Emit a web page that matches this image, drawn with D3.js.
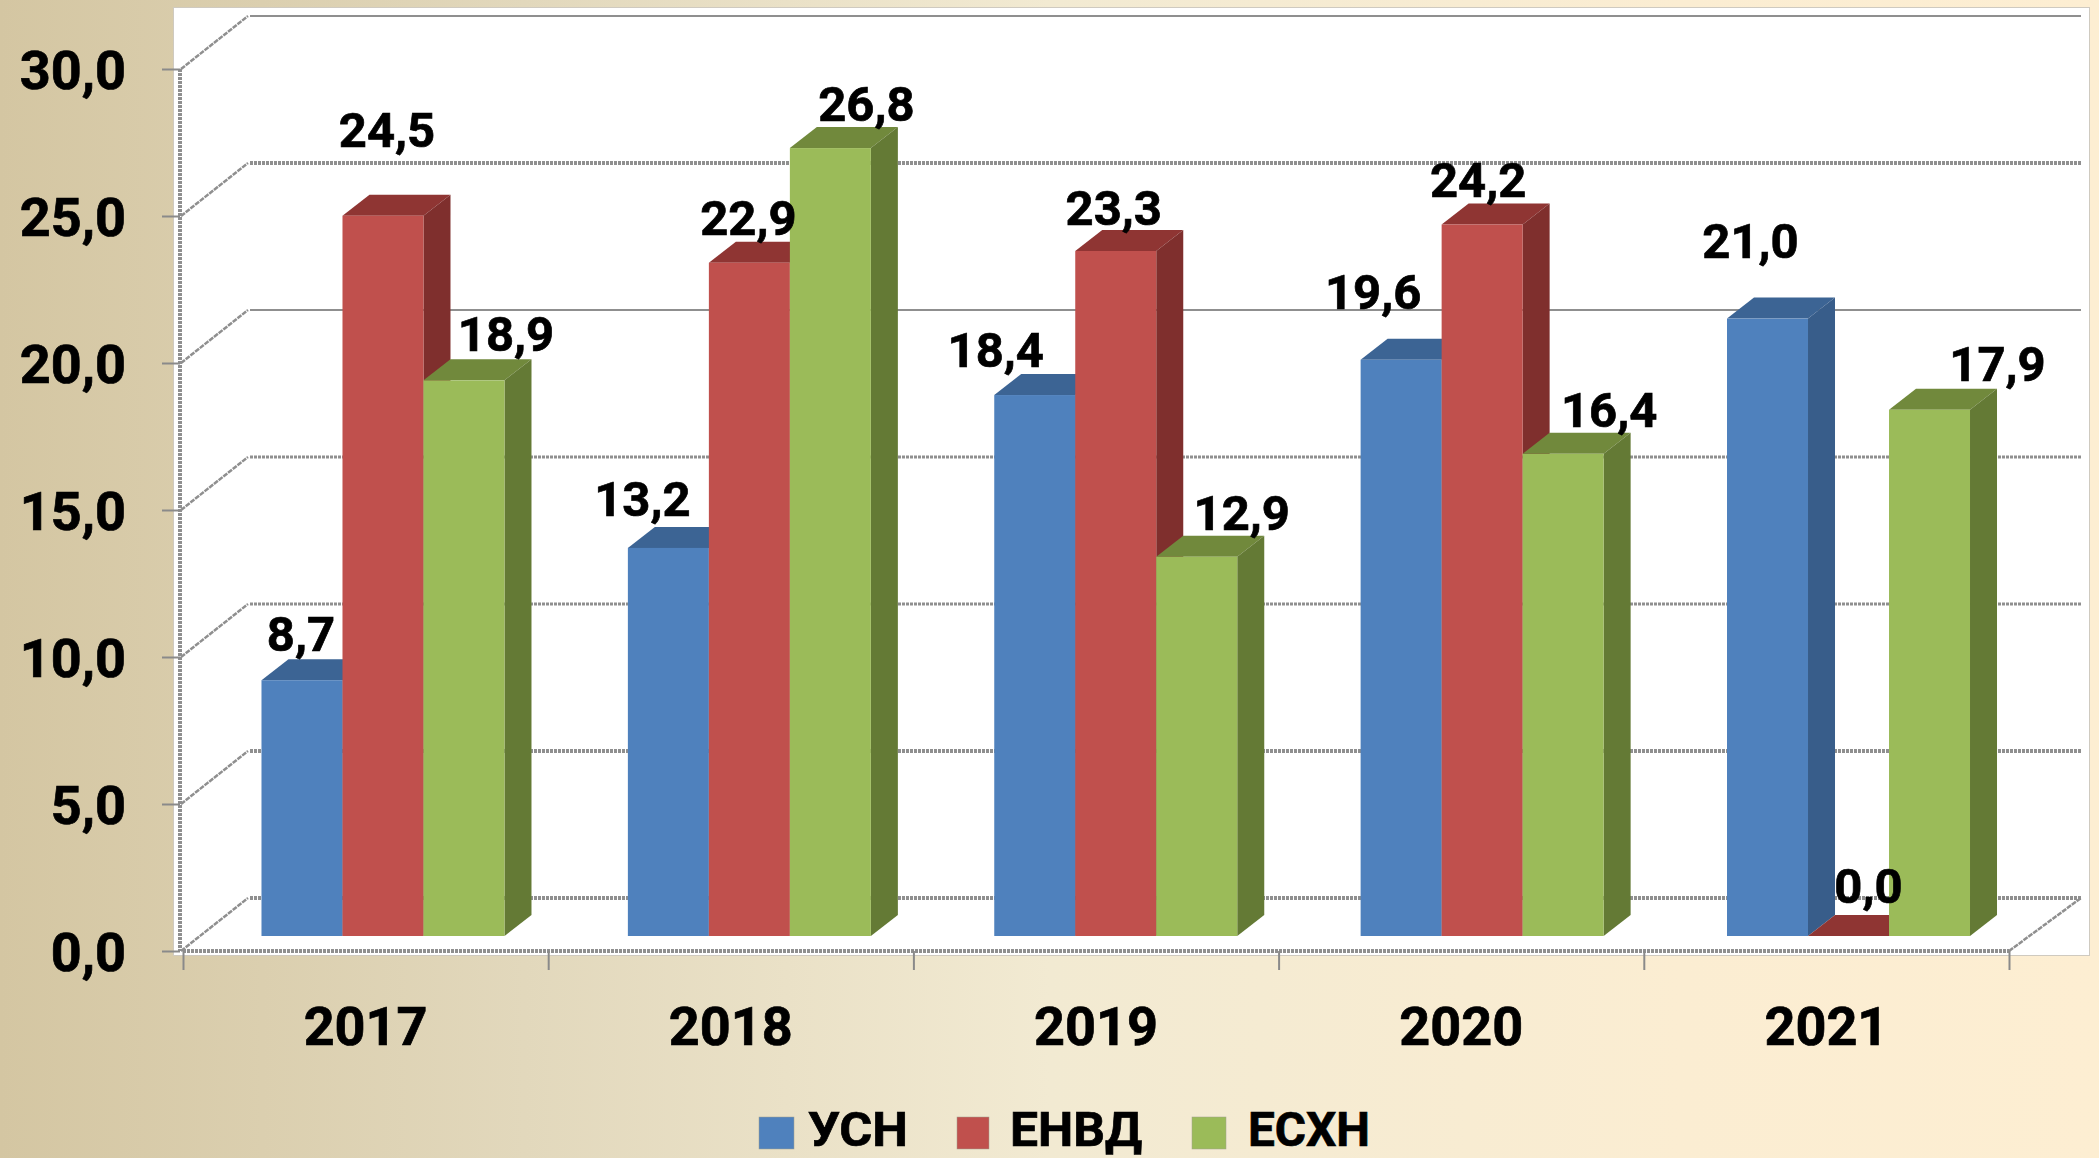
<!DOCTYPE html>
<html><head><meta charset="utf-8">
<script src="https://cdn.jsdelivr.net/npm/d3@7/dist/d3.min.js"></script>
<style>html,body{margin:0;padding:0;overflow:hidden;background:#f4ebd3}svg{display:block}
text{font-family:Roboto,sans-serif;font-weight:700;fill:#000;stroke:#000;stroke-width:.7px}</style></head>
<body><script>
const years = ["2017","2018","2019","2020","2021"];
const seriesNames = ["УСН","ЕНВД","ЕСХН"];
const usn   = [8.7,13.2,18.4,19.6,21.0];
const envd  = [24.5,22.9,23.3,24.2,0.0];
const eskhn = [18.9,26.8,12.9,16.4,17.9];
const yTicks = [0,5,10,15,20,25,30];

// layout only: label nudges relative to each bar's top centre
const nudgeX = [[-1,-26,-39,-28,-17],[4,-1,-2,-4,20],[42,36,45,46,68]];
const nudgeY = [[-47,-50,-46,-68,-78],[-86,-45,-44,-45,-51],[-47,-45,-44,-44,-46]];
const faces = [
 {front:"#4f81bd",top:"#3c6494",side:"#385d8a"},
 {front:"#c0504d",top:"#8f3533",side:"#7f2f2d"},
 {front:"#9bbb59",top:"#71893c",side:"#647a35"}];

const W=2099,H=1158, data=[usn,envd,eskhn];
const svg=d3.select("body").append("svg").attr("width",W).attr("height",H);
const defs=svg.append("defs");
const g=defs.append("linearGradient").attr("id","bg").attr("x1",0).attr("x2",1).attr("y1",0).attr("y2",0);
[[0,"#d4c6a2"],[.25,"#e2d8bc"],[.5,"#f2ead2"],[.8,"#fbedd2"],[1,"#fdeed2"]].forEach(d=>g.append("stop").attr("offset",d[0]).attr("stop-color",d[1]));
svg.append("rect").attr("width",W).attr("height",H).attr("fill","url(#bg)");
svg.append("rect").attr("x",173.5).attr("y",7.5).attr("width",1916).attr("height",948).attr("fill","#fff").attr("stroke","#cfcac0");

const y=d3.scaleLinear().domain([0,30]).range([951,69]);
const xAxisS=d3.scaleLinear().domain([0,years.length]).range([183,2009]);
const xLab=d3.scaleBand().domain(years).range([183,2009]);
const xBar=d3.scaleBand().domain(years).range([199.8,2031.7]);
const xSer=d3.scaleBand().domain(d3.range(3)).range([-121.5,121.5]);
const backDX=67,backDY=53,floorDY=15,depthX=27,depthY=21;
const gridCol="#8f8f8f";

// back wall grid and side wall diagonals
const grid=svg.append("g").attr("fill","none").attr("stroke",gridCol);
yTicks.forEach(v=>{
  const thick=(v===25||v===5||v===0)?4:(v===30||v===20?2:3);
  grid.append("line").attr("x1",183+backDX).attr("x2",2081).attr("y1",y(v)-backDY).attr("y2",y(v)-backDY)
    .attr("stroke-width",thick).attr("stroke-dasharray",(v===30||v===20)?null:"3 1");
  grid.append("line").attr("x1",181).attr("y1",y(v)).attr("x2",181+backDX).attr("y2",y(v)-backDY)
    .attr("stroke-width",2.5).attr("stroke-dasharray","5 1");
});
grid.append("line").attr("x1",xAxisS(5)).attr("y1",y(0)).attr("x2",2081).attr("y2",y(0)-backDY).attr("stroke-width",2.5).attr("stroke-dasharray","5 1");

// bars
const bars=svg.append("g");
data.forEach((vals,s)=>{
  const gs=bars.append("g");
  years.forEach((yr,c)=>{
    const x0=xBar(yr)+xBar.bandwidth()/2+xSer(s), w=xSer.bandwidth();
    const base=y(0)-floorDY, t=y(vals[c])-floorDY, f=faces[s];
    gs.append("path").attr("fill",f.top)
      .attr("d",`M${x0},${t}l${depthX},${-depthY}h${w}l${-depthX},${depthY}Z`);
    gs.append("path").attr("fill",f.side)
      .attr("d",`M${x0+w},${t}l${depthX},${-depthY}V${base-depthY}l${-depthX},${depthY}Z`);
    gs.append("rect").attr("x",x0).attr("y",t).attr("width",w).attr("height",base-t).attr("fill",f.front);
  });
});

// axes
const fmt=d=>d3.format(".1f")(d).replace(".",",");
const ay=svg.append("g").attr("transform","translate(180,0)")
  .call(d3.axisLeft(y).tickValues(yTicks).tickFormat(fmt).tickSize(18).tickPadding(36));
ay.selectAll("text").style("font-size","54px").attr("dy","0.37em");
ay.select(".domain").attr("stroke",gridCol).attr("stroke-width",4).attr("stroke-dasharray","3 1").attr("d","M0,69V951");
ay.selectAll(".tick line").attr("stroke","#8a8a8a").attr("stroke-width",2);
const ax=svg.append("g").attr("transform","translate(0,951)")
  .call(d3.axisBottom(xAxisS).tickValues(d3.range(6)).tickFormat("").tickSize(19));
ax.select(".domain").attr("stroke",gridCol).attr("stroke-width",4).attr("stroke-dasharray","3 1").attr("d","M183,0H2009");
ax.selectAll(".tick line").attr("stroke","#8a8a8a").attr("stroke-width",2);
svg.append("g").selectAll("text").data(years).join("text")
  .attr("x",d=>xLab(d)+xLab.bandwidth()/2).attr("y",1045).attr("text-anchor","middle")
  .style("font-size","54px").text(d=>d);

// data labels
data.forEach((vals,s)=>{
  years.forEach((yr,c)=>{
    svg.append("text").attr("text-anchor","middle").attr("dy","0.36em")
      .attr("x",xBar(yr)+xBar.bandwidth()/2+xSer(s)+xSer.bandwidth()/2+nudgeX[s][c])
      .attr("y",y(vals[c])-floorDY+nudgeY[s][c])
      .style("font-size","49px").text(fmt(vals[c]));
  });
});

// legend
const legSwatch=[[759,35],[957,32],[1192,34]], legText=[[808,100],[1010,132],[1248,122]];
seriesNames.forEach((n,i)=>{
  svg.append("rect").attr("x",legSwatch[i][0]).attr("y",1117).attr("width",legSwatch[i][1]).attr("height",32)
    .attr("fill",faces[i].front).attr("stroke","#a0a090").attr("stroke-width",.5);
  svg.append("text").attr("x",legText[i][0]).attr("y",1146).style("font-size","48px")
    .attr("textLength",legText[i][1]).attr("lengthAdjust","spacingAndGlyphs").text(n);
});
</script></body></html>
